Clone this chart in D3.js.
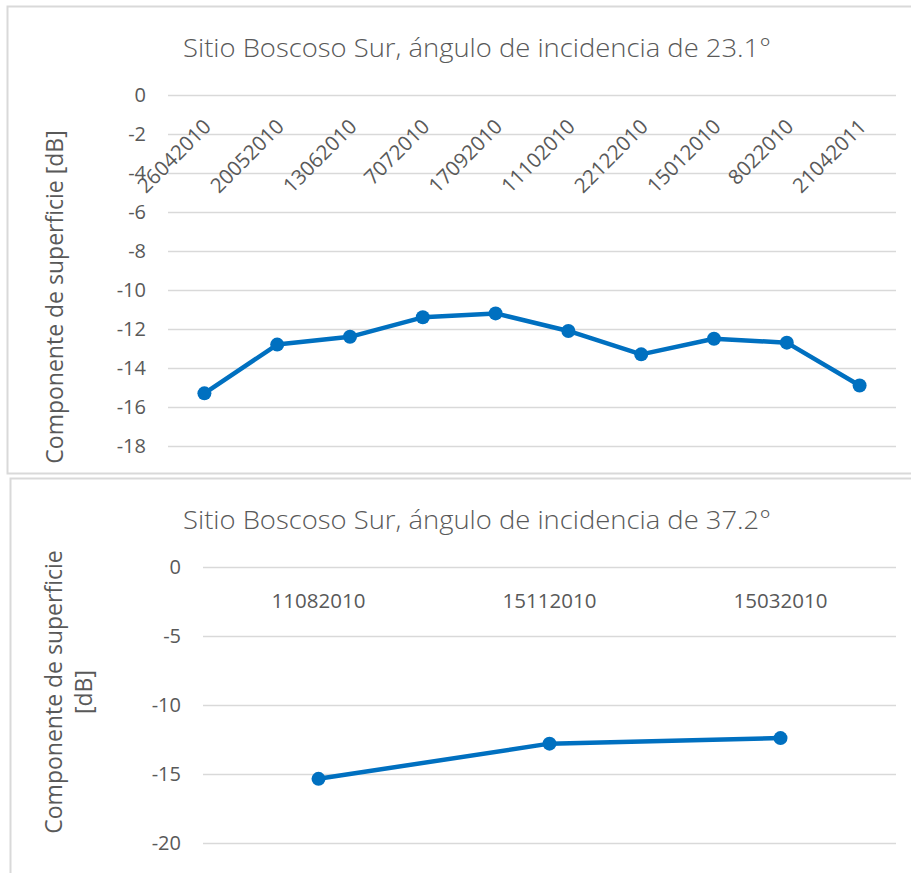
<!DOCTYPE html>
<html>
<head>
<meta charset="utf-8">
<script src="https://cdn.jsdelivr.net/npm/d3@7"></script>
<style>
  html, body { margin: 0; padding: 0; background: #ffffff; }
  svg { display: block; }
</style>
</head>
<body>
<svg id="chart" width="911" height="873"></svg>
<script>
// Surface component (dB), Boscoso Sur site, incidence angle 23.1°
const datesA = ["26042010", "20052010", "13062010", "7072010", "17092010",
                "11102010", "22122010", "15012010", "8022010", "21042011"];
const valuesA = [-15.3, -12.8, -12.4, -11.4, -11.2, -12.1, -13.3, -12.5, -12.7, -14.9];
const ticksA = [0, -2, -4, -6, -8, -10, -12, -14, -16, -18];

// Same site, incidence angle 37.2°
const datesB = ["11082010", "15112010", "15032010"];
const valuesB = [-15.35, -12.8, -12.4];
const ticksB = [0, -5, -10, -15, -20];

const titleA = "Sitio Boscoso Sur, ángulo de incidencia de 23.1°";
const titleB = "Sitio Boscoso Sur, ángulo de incidencia de 37.2°";
const yTitle = "Componente de superficie [dB]";

const BLUE = "#0070c0";
const GRID = "#d9d9d9";
const TEXT = "#595959";
const NARROW = "'Liberation Sans Narrow', 'Open Sans', sans-serif";
const SANS = "'Open Sans', 'Noto Sans', sans-serif";

const svg = d3.select("#chart");

// chart frames
svg.append("rect").attr("x", 7.5).attr("y", 6.5).attr("width", 920).attr("height", 467)
  .attr("fill", "none").attr("stroke", GRID).attr("stroke-width", 2);
svg.append("rect").attr("x", 10.5).attr("y", 478.5).attr("width", 920).attr("height", 420)
  .attr("fill", "none").attr("stroke", GRID).attr("stroke-width", 2);

function drawPanel(opt) {
  const g = svg.append("g");
  const x = d3.scaleBand().domain(opt.cats).range([opt.left, opt.right]);
  const y = d3.scaleLinear().domain([opt.min, 0]).range([opt.bottom, opt.top]);

  // title
  g.append("text")
    .attr("x", opt.titleX).attr("y", opt.titleY)
    .attr("text-anchor", "middle")
    .attr("font-family", "'Open Sans', sans-serif")
    .attr("font-weight", 300)
    .attr("font-size", 25)
    .attr("fill", TEXT)
    .attr("textLength", 588).attr("lengthAdjust", "spacingAndGlyphs")
    .text(opt.title);

  // value axis with gridlines
  const yAxis = d3.axisLeft(y).tickValues(opt.ticks).tickFormat(d3.format("d"))
    .tickSize(-(opt.right - opt.left)).tickPadding(22);
  const ya = g.append("g").attr("transform", `translate(${opt.left},0)`).call(yAxis);
  ya.select(".domain").remove();
  ya.selectAll(".tick line").attr("stroke", GRID).attr("stroke-width", 1.5);
  ya.selectAll(".tick text")
    .attr("font-family", NARROW).attr("font-size", 20).attr("fill", TEXT)
    .text(d => d === 0 ? "0" : "-" + Math.abs(d));

  // category labels
  const lab = g.selectAll(".cat").data(opt.cats).enter().append("text")
    .attr("class", "cat")
    .attr("font-family", SANS).attr("font-size", 20.5).attr("fill", TEXT)
    .text(d => d);
  if (opt.rotate) {
    lab.attr("text-anchor", "end")
      .attr("transform", d => `translate(${x(d) + x.bandwidth() / 2 + 8},${opt.labelY}) rotate(-45)`);
  } else {
    lab.attr("text-anchor", "middle")
      .attr("x", d => x(d) + x.bandwidth() / 2).attr("y", opt.labelY);
  }

  // series line and markers
  const pts = opt.cats.map((c, i) => [x(c) + x.bandwidth() / 2, y(opt.values[i])]);
  g.append("path").datum(pts)
    .attr("d", d3.line())
    .attr("fill", "none").attr("stroke", BLUE).attr("stroke-width", 4.5)
    .attr("stroke-linejoin", "round").attr("stroke-linecap", "round");
  g.selectAll(".pt").data(pts).enter().append("circle")
    .attr("class", "pt")
    .attr("cx", d => d[0]).attr("cy", d => d[1]).attr("r", 7)
    .attr("fill", BLUE);

  // value axis title
  const t = g.append("text")
    .attr("transform", `translate(${opt.yTitleX},${opt.yTitleY}) rotate(-90)`)
    .attr("text-anchor", "middle")
    .attr("font-family", SANS).attr("font-size", 23).attr("fill", TEXT);
  opt.yTitleLines.forEach((line, i) => {
    t.append("tspan").attr("x", 0).attr("dy", i === 0 ? 0 : 30).text(line);
  });
}

drawPanel({
  cats: datesA, values: valuesA, ticks: ticksA, min: -18,
  left: 168, right: 896, top: 95, bottom: 446,
  title: titleA, titleX: 477, titleY: 57,
  rotate: true, labelY: 128,
  yTitleX: 63, yTitleY: 297, yTitleLines: [yTitle]
});

drawPanel({
  cats: datesB, values: valuesB, ticks: ticksB, min: -20,
  left: 203, right: 896, top: 567, bottom: 843,
  title: titleB, titleX: 477, titleY: 529,
  rotate: false, labelY: 608,
  yTitleX: 62, yTitleY: 692, yTitleLines: ["Componente de superficie", "[dB]"]
});
</script>
</body>
</html>
